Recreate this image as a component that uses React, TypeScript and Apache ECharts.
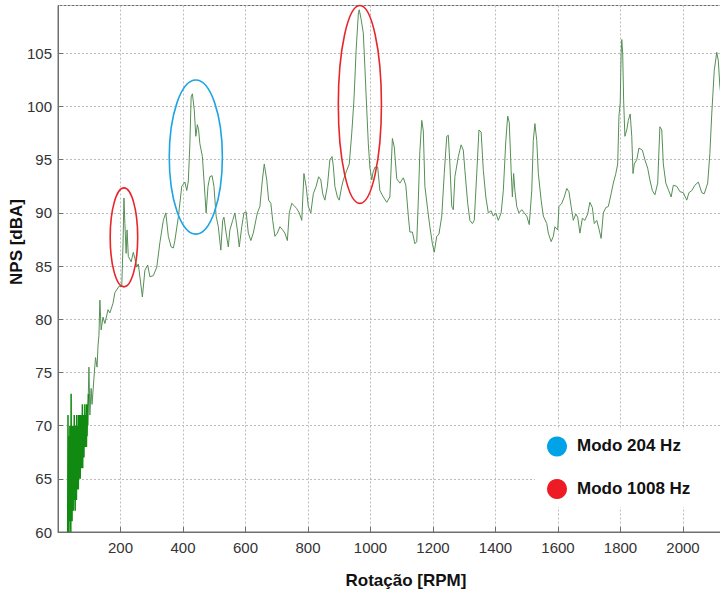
import React, { useEffect, useRef } from "react";
import * as echarts from "echarts";

// Sound pressure level (NPS, dBA) versus rotation speed (RPM), as [rpm, nps] pairs.
const lowSpeedBand: number[][] = [
  [31, 60], [32, 71], [33, 62], [34, 69], [35, 60], [36, 68], [37, 61], [38, 70], [39, 62], [40, 63],
  [41, 60], [42, 73], [43, 62], [44, 70], [45, 61], [46, 68], [47, 64], [48, 70], [49, 62], [50, 69],
  [51, 63], [52, 71], [53, 64], [54, 68], [55, 62], [56, 70], [57, 65], [58, 69], [59, 63], [60, 71],
  [61, 64], [62, 70], [63, 66], [64, 69], [65, 64], [66, 71], [67, 65], [68, 70], [69, 66], [70, 71],
  [71, 65], [72, 69], [73, 67], [74, 71], [75, 66], [76, 70], [77, 67], [78, 72], [79, 66], [80, 70],
  [81, 68], [82, 71], [83, 67], [84, 70], [85, 68], [86, 72], [87, 68], [88, 71], [89, 69], [90, 70],
  [91, 68], [92, 72], [93, 69], [94, 71], [95, 70], [97, 73],
];

const rampTo400: number[][] = [
  [97, 73], [99, 75.5], [102, 71], [106, 73.5], [109, 72], [115, 74.5], [120, 76.4], [125, 75.5], [128, 77.5],
  [131, 78.5], [134, 81.8], [138, 79], [144, 80.2], [150, 79.6], [160, 80.9], [166, 80.6], [176, 81.5],
  [182, 82.5], [195, 83.1], [204, 83.1], [208, 87], [211, 91.4], [214, 89], [218, 86.2], [221, 88.4],
  [225, 85.9], [234, 85.4], [241, 86.3], [246, 85.7], [252, 84.9], [257, 85.2], [270, 82.1], [278, 84.6],
  [287, 85.1], [294, 84], [305, 84.1], [316, 84.9], [326, 87.2], [337, 89.3], [345, 90], [353, 87.8],
  [362, 86.8], [369, 86.7], [374, 87.4], [385, 89.6], [396, 92.5],
];

const band400to1000: number[][] = [
  [406, 92.9], [412, 92.1], [417, 93], [422, 96.5], [426, 100.9], [430, 101.2], [436, 99.7], [441, 97.2],
  [446, 98.3], [450, 97.8], [454, 96.5], [462, 95.3], [467, 93.1], [474, 90], [480, 92.5], [486, 93.4],
  [493, 93.5], [499, 92.5], [506, 89.7], [513, 88.7], [521, 86.5], [527, 89.3], [531, 89.6], [538, 88.1],
  [545, 86.8], [550, 88.4], [559, 89.3], [566, 90], [574, 88.4], [580, 86.8], [588, 88.7], [595, 90],
  [602, 90.1], [609, 88.1], [617, 87.4], [625, 88.1], [633, 89.3], [638, 90], [646, 90.6], [654, 93.1],
  [660, 94.6], [668, 93.1], [674, 91.2], [681, 90.9], [687, 89.3], [694, 87.8], [702, 88.1], [710, 88.7],
  [719, 88.4], [726, 88.1], [734, 87.4], [740, 90], [748, 90.9], [755, 90.7], [764, 90.4], [772, 90],
  [780, 89.3], [787, 93.7], [794, 92.5], [801, 90.6], [809, 90], [817, 91.8], [826, 92.5], [834, 93.4],
  [841, 93.1], [847, 91.8], [854, 91.2], [862, 92.5], [870, 95], [877, 95.3], [881, 94.4], [886, 92.5],
  [894, 91.5], [900, 91.2], [908, 92.5], [913, 93.1], [924, 94], [932, 94.6], [940, 97.5], [947, 100.6],
  [954, 105.3], [961, 108.7], [964, 109.1], [970, 108.2], [977, 106.9], [982, 103.7], [988, 99.7],
  [993, 96.5], [998, 94.3],
];

const band1000to1600: number[][] = [
  [1004, 93.1], [1008, 93.8], [1014, 94.3], [1023, 94.3], [1030, 92.1], [1041, 91.5], [1052, 91.0],
  [1062, 91.5], [1070, 97.0], [1076, 96.2], [1084, 93.2], [1094, 92.8], [1105, 93.3], [1113, 92.6],
  [1121, 89.7], [1126, 88.2], [1134, 88.2], [1142, 87.1], [1148, 87.3], [1153, 91.2], [1158, 95.8],
  [1164, 98.7], [1169, 97.7], [1174, 92.5], [1183, 90.3], [1190, 88.7], [1198, 87.1], [1204, 86.3],
  [1212, 87.8], [1219, 88.0], [1228, 89.7], [1236, 93.7], [1244, 97.2], [1249, 97.3], [1254, 94.6],
  [1260, 90.6], [1265, 90.3], [1270, 93.4], [1281, 95.3], [1290, 96.4], [1297, 95.9], [1302, 94],
  [1311, 90.9], [1318, 89.3], [1326, 89], [1332, 89.3], [1340, 93.7], [1347, 97.8], [1354, 97.6],
  [1361, 94], [1369, 91.5], [1377, 90], [1386, 90.2], [1393, 89.7], [1401, 90], [1409, 89.3],
  [1418, 90], [1425, 92.1], [1433, 96.8], [1439, 99.1], [1444, 98.5], [1450, 94], [1454, 91.5],
  [1458, 93.7], [1462, 92.1], [1468, 90.6], [1475, 90], [1484, 90.3], [1492, 90], [1500, 89.7],
  [1508, 88.9], [1516, 92.1], [1521, 96.8], [1526, 98.4], [1532, 96.8], [1537, 93.7], [1546, 91.2],
  [1553, 89.7], [1564, 89], [1569, 88.1], [1578, 87.3], [1585, 87.8], [1590, 88.7], [1599, 88.4],
];

const band1600to2150: number[][] = [
  [1603, 90.6], [1612, 90.9], [1620, 91.5], [1628, 92.3], [1635, 92], [1642, 90.6], [1649, 89.3],
  [1657, 89.9], [1663, 89.6], [1670, 88.1], [1678, 89.5], [1686, 89.3], [1695, 89.9], [1702, 91.0],
  [1710, 90.5], [1716, 89], [1724, 89.3], [1731, 88.5], [1738, 87.6], [1745, 90], [1753, 90.5],
  [1761, 90.6], [1770, 91.8], [1777, 92.8], [1785, 93.7], [1791, 94.6], [1795, 99.1], [1799, 100.3],
  [1802, 105], [1804, 106.3], [1807, 105], [1810, 100.6], [1814, 97.2], [1820, 97.8], [1825, 98.7],
  [1831, 99.3], [1836, 97.2], [1840, 93.7], [1844, 94.6], [1852, 95], [1859, 96.1], [1870, 95.9],
  [1878, 95], [1887, 94.2], [1894, 93.1], [1902, 92.1], [1910, 91.7], [1919, 92.8], [1926, 98.1],
  [1932, 97.8], [1937, 94.6], [1945, 92.8], [1953, 92.2], [1962, 91.5], [1969, 92.6], [1980, 92.5],
  [1990, 92], [2001, 91.9], [2012, 91.2], [2019, 91.9], [2028, 92.1], [2038, 92.6], [2049, 92.9],
  [2060, 91.9], [2068, 91.8], [2079, 92.8], [2086, 95.6], [2092, 99.3], [2100, 103.4], [2108, 105.1],
  [2113, 104.3], [2118, 101.9], [2134, 98],
];

// Highlighted resonance regions: centre (rpm, nps) and half-extents.
const modeMarks = [
  { rpm: 211, nps: 87.7, dRpm: 44, dNps: 4.65, color: "#e8262a" },
  { rpm: 441, nps: 95.25, dRpm: 85, dNps: 7.24, color: "#1ea3e4" },
  { rpm: 966, nps: 100.2, dRpm: 69, dNps: 9.3, color: "#e8262a" },
];

const legendItems = [
  { label: "Modo 204 Hz", color: "#00a2e8" },
  { label: "Modo 1008 Hz", color: "#ed1c24" },
];

const xTitle = "Rotação [RPM]";
const yTitle = "NPS [dBA]";

const FONT = '"Liberation Sans", Arial, sans-serif';
const AXIS_GREY = "#6e6e6e";

// The plot runs on past the right edge of the visible frame (axis up to 2200 RPM).
const FRAME_W = 720;
const FRAME_H = 593;
const CANVAS_W = 760;

export default function App() {
  const ref = useRef<HTMLDivElement>(null);

  useEffect(() => {
    if (!ref.current) return;
    const chart = echarts.init(ref.current, null, { renderer: "svg" });
    const upperData = [...rampTo400, ...band400to1000, ...band1000to1600, ...band1600to2150];

    chart.setOption({
      animation: false,
      backgroundColor: "#ffffff",
      grid: {
        left: 58,
        right: CANVAS_W - 745.5,
        top: 5.5,
        bottom: 61,
        show: true,
        borderColor: AXIS_GREY,
        borderWidth: 1,
      },
      xAxis: {
        type: "value",
        min: 0,
        max: 2200,
        interval: 200,
        axisLine: { show: true, lineStyle: { color: AXIS_GREY } },
        axisTick: { show: true, inside: true, length: 5, lineStyle: { color: AXIS_GREY } },
        axisLabel: {
          showMinLabel: false,
          showMaxLabel: false,
          color: "#333",
          fontSize: 15,
          fontFamily: FONT,
          margin: 8,
          formatter: (v: number) => String(v),
        },
        splitLine: { show: true, lineStyle: { color: "#bcbcbc", type: [2, 2], width: 1 } },
      },
      yAxis: {
        type: "value",
        min: 60,
        max: 109.5,
        interval: 5,
        axisLine: { show: true, lineStyle: { color: AXIS_GREY } },
        axisTick: { show: true, inside: true, length: 5, lineStyle: { color: AXIS_GREY } },
        axisLabel: {
          showMaxLabel: false,
          color: "#333",
          fontSize: 15,
          fontFamily: FONT,
          margin: 6,
          formatter: (v: number) => String(v),
        },
        splitLine: { show: true, lineStyle: { color: "#bcbcbc", type: [2, 2], width: 1 } },
      },
      series: [
        {
          // dense low-speed scatter of the measurement
          type: "line",
          data: lowSpeedBand,
          symbol: "none",
          showSymbol: false,
          lineStyle: { color: "#118a11", width: 1.5 },
          z: 3,
        },
        {
          type: "line",
          data: upperData,
          symbol: "none",
          showSymbol: false,
          lineStyle: { color: "#558f55", width: 1 },
          z: 3,
        },
      ],
    });

    const ellipses = modeMarks.map((m) => {
      const c = chart.convertToPixel({ gridIndex: 0 }, [m.rpm, m.nps]) as number[];
      const e = chart.convertToPixel({ gridIndex: 0 }, [m.rpm + m.dRpm, m.nps + m.dNps]) as number[];
      return {
        type: "ellipse",
        shape: { cx: c[0], cy: c[1], rx: e[0] - c[0], ry: c[1] - e[1] },
        style: { fill: "none", stroke: m.color, lineWidth: 1.6 },
        z: 50,
      };
    });

    const legend: any[] = [
      {
        type: "rect",
        shape: { x: 535, y: 430, width: 220, height: 77 },
        style: { fill: "#ffffff" },
        z: 40,
      },
    ];
    legendItems.forEach((item, i) => {
      const cy = 446.5 + i * 42.5;
      legend.push({
        type: "circle",
        shape: { cx: 557, cy, r: 10 },
        style: { fill: item.color },
        z: 41,
      });
      legend.push({
        type: "text",
        x: 577,
        y: cy - 1,
        style: {
          text: item.label,
          font: `bold 17px ${FONT}`,
          fill: "#111",
          align: "left",
          verticalAlign: "middle",
        },
        z: 41,
      });
    });

    const titles = [
      {
        type: "text",
        x: 406,
        y: 580,
        style: {
          text: xTitle,
          font: `bold 17px ${FONT}`,
          fill: "#111",
          align: "center",
          verticalAlign: "middle",
        },
      },
      {
        type: "text",
        x: 16,
        y: 242,
        rotation: Math.PI / 2,
        style: {
          text: yTitle,
          font: `bold 17px ${FONT}`,
          fill: "#111",
          align: "center",
          verticalAlign: "middle",
        },
      },
    ];

    chart.setOption({ graphic: [...titles, ...legend, ...ellipses] });

    return () => chart.dispose();
  }, []);

  return (
    <div
      style={{
        position: "fixed",
        left: 0,
        top: 0,
        width: FRAME_W,
        height: FRAME_H,
        overflow: "hidden",
        background: "#fff",
      }}
    >
      <div ref={ref} style={{ width: CANVAS_W, height: FRAME_H }} />
    </div>
  );
}
